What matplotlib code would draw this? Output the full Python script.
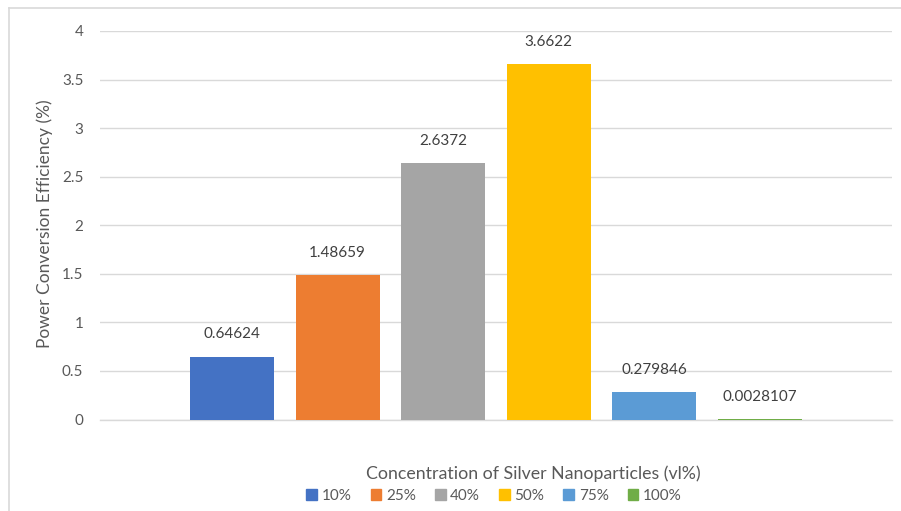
import matplotlib
matplotlib.use("Agg")
import matplotlib.pyplot as plt
from matplotlib.patches import Rectangle
from matplotlib.lines import Line2D

# Power conversion efficiency for each silver nanoparticle concentration
concentrations = ["10%", "25%", "40%", "50%", "75%", "100%"]
efficiency = [0.64624, 1.48659, 2.6372, 3.6622, 0.279846, 0.0028107]
value_labels = ["0.64624", "1.48659", "2.6372", "3.6622", "0.279846", "0.0028107"]
colors = ["#4472C4", "#ED7D31", "#A5A5A5", "#FFC000", "#5B9BD5", "#70AD47"]
y_ticks = [0, 0.5, 1, 1.5, 2, 2.5, 3, 3.5, 4]
y_tick_labels = ["0", "0.5", "1", "1.5", "2", "2.5", "3", "3.5", "4"]

plt.rcParams["font.family"] = ["Lato", "DejaVu Sans"]
text_color = "#595959"

fig = plt.figure(figsize=(9.01, 5.11), dpi=100)
W, H = 901, 511

# chart frame (left and top edges visible)
fig.add_artist(Line2D([8.5 / W, 8.5 / W], [0, 1 - 8.5 / H], color="#D9D9D9", lw=1.2))
fig.add_artist(Line2D([8.5 / W, 1], [1 - 8.5 / H, 1 - 8.5 / H], color="#D9D9D9", lw=1.2))

ax = fig.add_axes([100 / W, 1 - 419.5 / H, 792 / W, 388.5 / H])
positions = list(range(len(efficiency)))
bars = ax.bar(positions, efficiency, width=0.795, color=colors, zorder=3)
ax.set_xlim(-1.25, 6.25)
ax.set_ylim(0, 4)
ax.set_yticks(y_ticks)
ax.set_yticklabels(y_tick_labels)
ax.set_xticks([])
ax.tick_params(axis="y", length=0, pad=12, labelsize=11, labelcolor=text_color)
ax.grid(axis="y", color="#D9D9D9", lw=1.0, zorder=0)
for side in ["top", "right", "left"]:
    ax.spines[side].set_visible(False)
ax.spines["bottom"].set_color("#D9D9D9")
ax.spines["bottom"].set_linewidth(1.0)

for x, v, lab in zip(positions, efficiency, value_labels):
    ax.annotate(lab, (x, v), xytext=(0, 11), textcoords="offset points",
                ha="center", va="bottom", fontsize=11, color="#404040")

fig.text(45 / W, 1 - 224 / H, "Power Conversion Efficiency (%)", rotation=90,
         ha="center", va="center", fontsize=12.5, color=text_color)
fig.text(533 / W, 1 - 474 / H, "Concentration of Silver Nanoparticles (vl%)",
         ha="center", va="center", fontsize=12.8, color=text_color)

handles = [Rectangle((0, 0), 1, 1, color=c) for c in colors]
leg = fig.legend(handles, concentrations, loc="center", bbox_to_anchor=(494 / W, 1 - 496 / H),
                 ncol=6, frameon=False, fontsize=11, handlelength=0.7, handleheight=0.7,
                 handletextpad=0.3, columnspacing=1.25, labelcolor=text_color)

fig.savefig("out.png", dpi=100)
